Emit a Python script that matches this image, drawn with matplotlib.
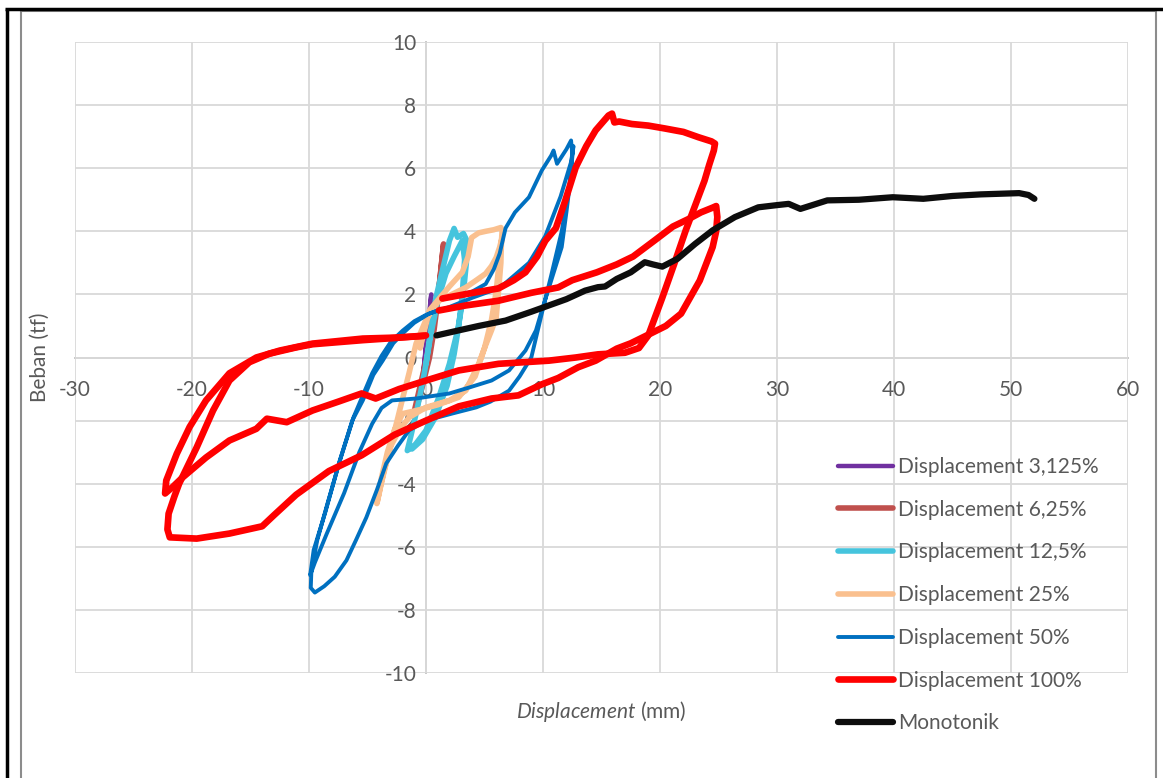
"""
Hysteresis curves: load (Beban) vs displacement for each displacement level,
plus the monotonic test.
"""
import numpy as np
import matplotlib
matplotlib.use('Agg')
import matplotlib.pyplot as plt
from matplotlib.lines import Line2D

W, H = 1163, 778

plt.rcParams['font.family'] = ['Lato', 'DejaVu Sans']
plt.rcParams['mathtext.fontset'] = 'custom'
plt.rcParams['mathtext.it'] = 'Lato:italic'
plt.rcParams['mathtext.rm'] = 'Lato'
plt.rcParams['axes.unicode_minus'] = False

TEXT_COLOR = '#595959'
FS = 15

# ---- data ----
LABELS = ['Displacement 3,125%', 'Displacement 6,25%', 'Displacement 12,5%',
          'Displacement 25%', 'Displacement 50%', 'Displacement 100%', 'Monotonik']

PURPLE_X = [-0.4, -0.1, 0.1, 0.3, 0.45, 0.3, 0.0, -0.3]
PURPLE_Y = [-1.0, 0.0, 0.9, 1.5, 2.0, 1.3, 0.3, -0.7]

BROWN_X = [-1.0, -0.5, 0.0, 0.5, 0.9, 1.2, 1.5, 1.3, 1.0, 0.7, 0.3, -0.3, -0.8]
BROWN_Y = [-1.7, -0.9, -0.1, 0.8, 1.6, 2.5, 3.6, 2.9, 1.8, 0.9, 0.0, -0.9, -1.6]

CYAN_X = [0.0, 0.4, 0.85, 1.4, 2.0, 2.4, 2.7, 3.2, 3.5, 3.45, 3.3, 3.0, 2.7, 2.0, 1.1,
          0.0, -0.9, -1.6, -1.3, -0.85, -0.4, 0.0, 0.4, 1.0, 1.7, 2.4, 3.1, 3.3, 3.1,
          2.8, 2.4, 1.8, 0.8, -0.3, -1.2]
CYAN_Y = [-0.2, 0.86, 1.9, 2.76, 3.7, 4.09, 3.81, 3.93, 3.7, 3.0, 2.44, 1.5, 0.86, -0.2,
          -1.26, -2.31, -2.75, -2.95, -2.5, -1.78, -1.0, -0.2, 0.7, 1.8, 2.66, 3.2, 3.7,
          3.1, 2.0, 1.0, 0.1, -0.9, -1.9, -2.6, -2.9]

ORANGE_X = [-0.5, 0.3, 1.2, 2.0, 3.1, 3.6, 3.9, 4.5, 5.1, 5.8, 6.4, 6.5, 6.45, 6.4, 6.2,
            6.0, 5.6, 5.0, 4.5, 3.4, 2.0, 0.0, -1.45, -2.3, -3.0, -3.4, -3.9, -4.2, -4.0,
            -3.6, -2.9, -2.4, -2.0, -1.45, -0.85, 0.0, 1.1, 2.2, 3.4, 4.3, 5.1, 5.6, 6.0,
            6.3, 6.5, 6.3, 6.0, 5.6, 5.0, 4.2, 2.8, 1.0, -0.5, -2.0, -2.7, -3.3, -3.8, -4.1]
ORANGE_Y = [0.3, 1.5, 1.9, 2.25, 2.7, 3.2, 3.8, 3.95, 4.0, 4.05, 4.12, 4.0, 3.7, 3.0, 2.1,
            1.27, 0.86, 0.3, -0.2, -1.05, -1.36, -1.58, -1.9, -2.31, -2.8, -3.36, -4.1,
            -4.63, -4.3, -3.6, -2.63, -1.9, -1.3, -0.5, 0.44, 1.2, 1.8, 2.0, 2.22, 2.45,
            2.66, 2.9, 3.17, 3.5, 3.8, 3.2, 2.1, 1.2, 0.3, -0.6, -1.26, -1.5, -1.65, -1.78,
            -2.3, -3.0, -3.8, -4.4]

BLUE_X = [1.5, 2.8, 3.9, 5.1, 5.8, 6.3, 6.8, 7.6, 8.8, 9.9, 10.7, 10.9, 11.2, 12.0, 12.4,
          12.5, 12.3, 12.0, 11.6, 10.7, 9.9, 9.4, 8.5, 7.1, 5.6, 3.7, 2.0, -0.85, -2.9,
          -3.8, -4.6, -5.7, -7.0, -8.5, -9.5, -9.9, -9.6, -8.6, -7.4, -6.3, -5.4, -4.5,
          -3.7, -2.8, -2.0, -1.0, 0.26, 2.0, 4.0, 5.5, 6.7, 8.8, 10.2, 11.5, 12.4, 12.6,
          12.3, 11.6, 10.7, 9.9, 9.0, 8.0, 7.1, 5.5, 4.3, 2.2, 0.0, -1.45, -2.4, -3.4,
          -4.2, -5.1, -6.0, -6.8, -7.8, -8.7, -9.5, -9.85, -9.8, -9.3, -8.4, -7.3, -6.2,
          -5.4, -4.6, -3.8, -3.0, -2.0, -1.0, 0.0, 0.9]
BLUE_Y = [1.88, 1.98, 2.08, 2.33, 2.8, 3.3, 4.1, 4.6, 5.08, 5.93, 6.4, 6.56, 6.14, 6.6,
          6.88, 6.46, 5.5, 4.6, 3.5, 2.44, 1.49, 0.86, 0.22, -0.41, -0.73, -0.95, -1.14,
          -1.3, -1.36, -1.6, -2.1, -3.0, -4.3, -5.6, -6.5, -6.9, -6.1, -4.9, -3.3, -2.0,
          -1.36, -0.55, -0.1, 0.45, 0.76, 1.1, 1.39, 1.6, 1.9, 2.1, 2.33, 3.0, 3.85, 5.1,
          6.2, 6.7, 5.6, 4.0, 2.6, 1.4, 0.0, -0.6, -1.05, -1.4, -1.58, -1.78, -2.0, -2.31,
          -2.8, -3.36, -4.2, -5.07, -5.8, -6.43, -6.95, -7.25, -7.45, -7.3, -6.8, -5.8,
          -4.6, -3.2, -1.9, -1.2, -0.5, 0.05, 0.5, 0.85, 1.15, 1.35, 1.48]

# 100% level: two cycles, drawn as separate pieces
RED1_X = [1.1, 3.4, 6.2, 9.0, 11.3, 12.5, 14.6, 16.3, 17.7, 19.5, 21.1, 22.5, 23.5, 24.5,
          24.8, 24.9, 24.8, 24.5, 23.4, 21.8, 20.5, 19.2, 17.5, 16.3, 14.5, 13.0, 11.3,
          9.9, 7.9, 5.6, 2.8, 0.0, -2.7, -5.5, -8.3, -11.1, -13.0, -14.0, -16.8, -19.6,
          -21.9, -22.1, -22.0, -21.5, -21.1, -19.6, -18.2, -16.8, -15.1, -13.4, -11.1,
          -9.7, -5.4, -2.6, 0.0]
RED1_Y = [1.49, 1.65, 1.8, 2.05, 2.22, 2.45, 2.7, 2.95, 3.2, 3.7, 4.15, 4.4, 4.6, 4.75,
          4.8, 4.45, 4.0, 3.5, 2.44, 1.39, 1.0, 0.76, 0.45, 0.28, -0.1, -0.31, -0.65,
          -0.85, -1.2, -1.3, -1.55, -2.0, -2.45, -3.1, -3.6, -4.35, -5.0, -5.35, -5.58,
          -5.74, -5.7, -5.45, -4.95, -4.4, -4.0, -2.85, -1.68, -0.73, -0.15, 0.12, 0.32,
          0.42, 0.55, 0.62, 0.7]
RED2_X = [1.4, 4.0, 6.2, 7.5, 8.5, 9.5, 10.2, 11.1, 11.9, 12.8, 13.7, 14.5, 15.2, 15.6,
          15.9, 16.1, 16.5, 17.6, 19.0, 20.4, 22.0, 23.3, 24.4, 24.7, 24.6, 24.2, 23.8,
          22.2, 21.2, 20.2, 19.0, 18.2, 17.0, 14.7, 12.8, 10.5, 6.2, 2.8, 0.0, -2.3, -4.3,
          -5.5, -7.5, -9.7, -11.9, -13.6, -14.5, -16.8, -18.8, -20.8, -21.7, -22.3, -22.2,
          -21.3, -20.2, -18.8, -16.8, -14.5, -12.5, -9.7, -5.4, -2.6, -0.2]
RED2_Y = [1.87, 2.05, 2.19, 2.45, 2.7, 3.2, 3.7, 4.1, 4.97, 6.03, 6.7, 7.2, 7.5, 7.67,
          7.73, 7.45, 7.48, 7.4, 7.35, 7.26, 7.15, 6.98, 6.85, 6.78, 6.56, 6.1, 5.6, 4.03,
          2.95, 1.9, 0.7, 0.3, 0.15, 0.1, 0.0, -0.1, -0.2, -0.41, -0.73, -1.0, -1.3,
          -1.14, -1.4, -1.68, -2.05, -1.94, -2.26, -2.63, -3.17, -3.8, -4.12, -4.31, -3.9,
          -3.05, -2.2, -1.36, -0.5, 0.0, 0.22, 0.44, 0.6, 0.63, 0.68]

BLACK_X = [0.9, 2.8, 4.5, 6.8, 9.0, 10.5, 12.0, 13.6, 14.7, 15.3, 16.3, 17.5, 18.7, 19.4,
           20.2, 21.5, 23.0, 24.5, 26.4, 28.4, 30.0, 31.0, 32.0, 34.3, 37.0, 39.9, 42.5,
           45.0, 47.4, 50.7, 51.5, 52.0]
BLACK_Y = [0.70, 0.86, 1.0, 1.17, 1.45, 1.65, 1.85, 2.12, 2.23, 2.25, 2.49, 2.7, 3.02,
           2.95, 2.88, 3.13, 3.6, 4.03, 4.45, 4.76, 4.83, 4.87, 4.71, 4.98, 5.0, 5.08,
           5.03, 5.12, 5.17, 5.21, 5.15, 5.03]

X_TICKS = [-30, -20, -10, 0, 10, 20, 30, 40, 50, 60]
Y_TICKS = [-10, -8, -6, -4, -2, 0, 2, 4, 6, 8, 10]


def px(x, y):
    """pixel (from top-left) -> figure fraction"""
    return x / W, 1 - y / H


def frame(fig):
    """page/table border around the chart"""
    def seg(x0, y0, x1, y1, color, lw):
        a, b = px(x0, y0)
        c, d = px(x1, y1)
        fig.add_artist(Line2D([a, c], [b, d], transform=fig.transFigure,
                              color=color, lw=lw, solid_capstyle='butt'))
    seg(21, 11, 1156, 11, '#8c8c8c', 1.5)
    seg(21, 11, 21, H, '#8c8c8c', 1.5)
    seg(1156, 11, 1156, H, '#8c8c8c', 1.5)
    seg(5, 8.5, W, 8.5, 'black', 2.5)
    seg(6.5, 8.5, 6.5, H, 'black', 2.5)


def main():
    fig = plt.figure(figsize=(W / 100, H / 100), dpi=100)
    l, b = px(75, 673)
    r, t = px(1128, 42)
    ax = fig.add_axes([l, b, r - l, t - b])

    style = dict(solid_joinstyle='round', solid_capstyle='round')
    ax.plot(PURPLE_X, PURPLE_Y, color='#7030A0', lw=3.2, label=LABELS[0], **style)
    ax.plot(BROWN_X, BROWN_Y, color='#C0504D', lw=4.0, label=LABELS[1], **style)
    ax.plot(CYAN_X, CYAN_Y, color='#45C4DD', lw=4.0, label=LABELS[2], **style)
    ax.plot(ORANGE_X, ORANGE_Y, color='#FAC08F', lw=4.0, label=LABELS[3], **style)
    ax.plot(BLUE_X, BLUE_Y, color='#0070C0', lw=2.8, label=LABELS[4], **style)
    ax.plot(RED1_X, RED1_Y, color='#FF0000', lw=4.8, label=LABELS[5], **style)
    ax.plot(RED2_X, RED2_Y, color='#FF0000', lw=4.8, **style)
    ax.plot(BLACK_X, BLACK_Y, color='#0D0D0D', lw=4.5, label=LABELS[6], **style)

    ax.set_xlim(-30, 60)
    ax.set_ylim(-10, 10)
    ax.set_xticks(X_TICKS)
    ax.set_yticks(Y_TICKS)
    ax.grid(True, color='#D9D9D9', lw=1.3)
    ax.set_axisbelow(True)
    for g in ax.get_xgridlines() + ax.get_ygridlines():
        g.set_clip_on(False)

    ax.spines['left'].set_position(('data', 0))
    ax.spines['bottom'].set_position(('data', 0))
    for s in ['left', 'bottom']:
        ax.spines[s].set_color('#BFBFBF')
        ax.spines[s].set_linewidth(1.3)
        ax.spines[s].set_zorder(0.5)
    ax.spines['top'].set_visible(False)
    ax.spines['right'].set_visible(False)
    ax.tick_params(length=0, labelsize=FS, labelcolor=TEXT_COLOR)
    ax.tick_params(axis='x', pad=16)
    ax.tick_params(axis='y', pad=7)

    # axis titles
    x, y = px(40, 357)
    fig.text(x, y, 'Beban (tf)', rotation=90, ha='center', va='center',
             fontsize=FS, color=TEXT_COLOR)
    x, y = px(601, 712)
    fig.text(x, y, r'$\mathit{Displacement}$ (mm)', ha='center', va='center',
             fontsize=FS, color=TEXT_COLOR)

    # legend (no frame, hangs below the plot area)
    x, y = px(838, 457)
    fig.legend(loc='upper left', bbox_to_anchor=(x, y), frameon=False, fontsize=FS,
               labelcolor=TEXT_COLOR, handlelength=2.65, handletextpad=0.25,
               labelspacing=1.09, borderpad=0, borderaxespad=0)

    frame(fig)
    fig.savefig('out.png', dpi=100)


if __name__ == '__main__': main()
